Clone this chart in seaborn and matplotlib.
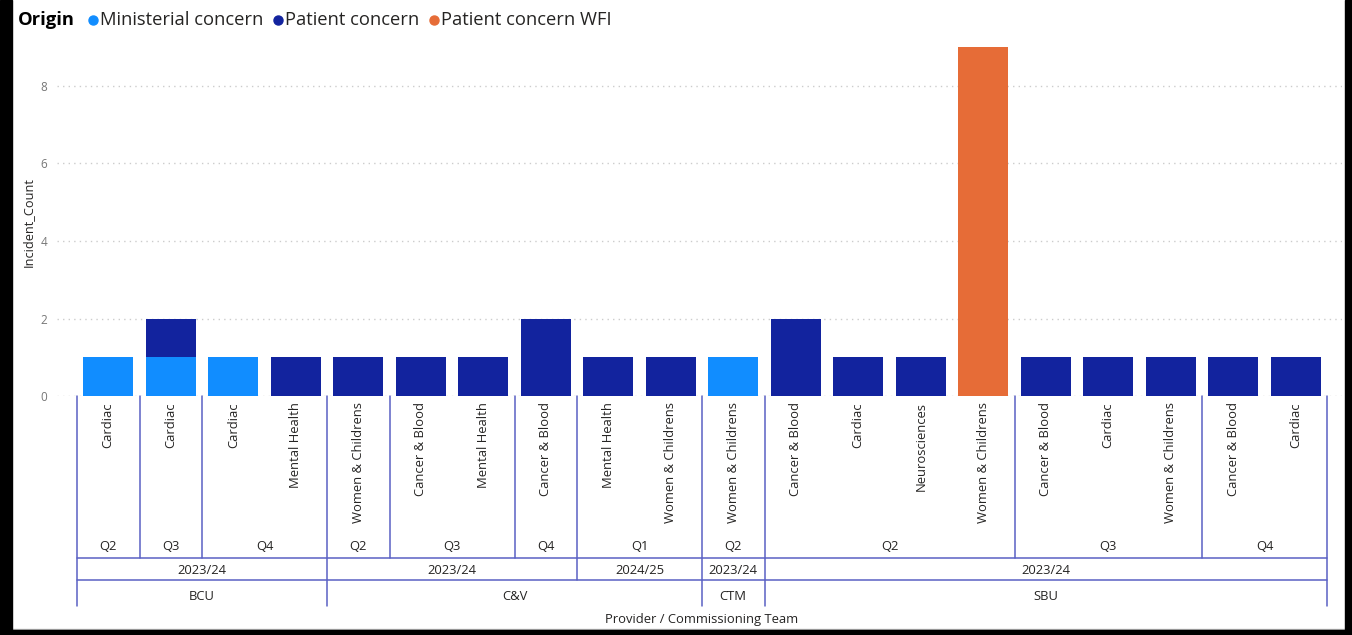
import matplotlib
matplotlib.use("Agg")
import matplotlib.pyplot as plt
import matplotlib.transforms as mtransforms
from matplotlib.lines import Line2D
from matplotlib.patches import Rectangle
import seaborn as sns
import pandas as pd

# ---- data -------------------------------------------------------------
providers = ["BCU"] * 4 + ["C&V"] * 6 + ["CTM"] + ["SBU"] * 9
years = ["2023/24"] * 8 + ["2024/25"] * 2 + ["2023/24"] + ["2023/24"] * 9
quarters = ["Q2", "Q3", "Q4", "Q4", "Q2", "Q3", "Q3", "Q4", "Q1", "Q1",
            "Q2", "Q2", "Q2", "Q2", "Q2", "Q3", "Q3", "Q3", "Q4", "Q4"]
specialties = ["Cardiac", "Cardiac", "Cardiac", "Mental Health",
               "Women & Childrens", "Cancer & Blood", "Mental Health",
               "Cancer & Blood", "Mental Health", "Women & Childrens",
               "Women & Childrens", "Cancer & Blood", "Cardiac",
               "Neurosciences", "Women & Childrens", "Cancer & Blood",
               "Cardiac", "Women & Childrens", "Cancer & Blood", "Cardiac"]
ministerial = [1, 1, 1, 0, 0, 0, 0, 0, 0, 0, 1, 0, 0, 0, 0, 0, 0, 0, 0, 0]
patient = [0, 1, 0, 1, 1, 1, 1, 2, 1, 1, 0, 2, 1, 1, 0, 1, 1, 1, 1, 1]
patient_wfi = [0, 0, 0, 0, 0, 0, 0, 0, 0, 0, 0, 0, 0, 0, 9, 0, 0, 0, 0, 0]

series = ["Ministerial concern", "Patient concern", "Patient concern WFI"]
colors = {"Ministerial concern": "#118DFF",
          "Patient concern": "#12239E",
          "Patient concern WFI": "#E66C37"}

n = len(specialties)
df = pd.DataFrame({"pos": list(range(n)),
                   "Ministerial concern": ministerial,
                   "Patient concern": patient,
                   "Patient concern WFI": patient_wfi})
stacked = df[series].cumsum(axis=1)

# ---- figure -----------------------------------------------------------
W, H = 1352, 635
sns.set_theme(style="white")
plt.rcParams["font.family"] = ["Open Sans", "DejaVu Sans"]
fig = plt.figure(figsize=(W / 100, H / 100), dpi=100)

px_per_unit = 38.75
y_top = 9.2
ax_left_px, ax_right_px = 57, 1342
zero_px = 396
ax = fig.add_axes([ax_left_px / W, 1 - zero_px / H,
                   (ax_right_px - ax_left_px) / W, y_top * px_per_unit / H])

# stacked bars: draw cumulative totals from the top layer down
for name in reversed(series):
    sns.barplot(x=df["pos"], y=stacked[name], order=list(range(n)),
                color=colors[name], saturation=1, width=0.8,
                errorbar=None, ax=ax, zorder=3, linewidth=0)

# category spacing: 62.5 px per bar, first slot starting at x=77
slot = 62.5
x0 = -0.5 - (77 - ax_left_px) / slot
x1 = (n - 0.5) + (ax_right_px - 1327) / slot
ax.set_xlim(x0, x1)
ax.set_ylim(0, y_top)
ax.set_yticks([0, 2, 4, 6, 8])
ax.set_xticks([])
ax.set_xlabel("")
ax.set_ylabel("")
ax.tick_params(axis="y", length=0, pad=7, labelsize=8.5, labelcolor="#777777")
ax.grid(axis="y", linestyle=(0, (1, 3)), color="#cccccc", linewidth=1, zorder=0)
for s in ax.spines.values():
    s.set_visible(False)

# ---- hierarchical category axis ---------------------------------------
trans = mtransforms.blended_transform_factory(ax.transData, fig.transFigure)


def fy(py):
    return 1 - py / H


line_kw = dict(color="#5a61c4", linewidth=1.1, transform=trans, clip_on=False)
text_color = "#252423"

q_bottom, y_bottom, p_bottom = 558, 580, 606

# vertical separators
bounds = [(-0.5, p_bottom)]
for i in range(1, n):
    if providers[i] != providers[i - 1]:
        bounds.append((i - 0.5, p_bottom))
    elif years[i] != years[i - 1]:
        bounds.append((i - 0.5, y_bottom))
    elif quarters[i] != quarters[i - 1]:
        bounds.append((i - 0.5, q_bottom))
bounds.append((n - 0.5, p_bottom))
for bx, bottom in bounds:
    ax.add_line(Line2D([bx, bx], [fy(zero_px), fy(bottom)], **line_kw))

# horizontal separators
for hy in (q_bottom, y_bottom):
    ax.add_line(Line2D([-0.5, n - 0.5], [fy(hy), fy(hy)], **line_kw))

# specialty labels
for i, lab in enumerate(specialties):
    ax.text(i, fy(402), lab, rotation=90, ha="center", va="top",
            fontsize=9.4, color=text_color, transform=trans)


def runs(keys):
    out = []
    start = 0
    for i in range(1, n + 1):
        if i == n or keys[i] != keys[start]:
            out.append((start, i - 1))
            start = i
    return out


q_keys = list(zip(providers, years, quarters))
y_keys = list(zip(providers, years))
for keys, labels, py in ((q_keys, quarters, 546),
                         (y_keys, years, 570),
                         (providers, providers, 596)):
    for a, b in runs(keys):
        ax.text((a + b) / 2, fy(py), labels[a], ha="center", va="center",
                fontsize=9.4, color=text_color, transform=trans)

fig.text(702 / W, fy(620), "Provider / Commissioning Team", ha="center",
         va="center", fontsize=9.4, color=text_color)
fig.text(28 / W, fy(222), "Incident_Count", rotation=90, ha="center",
         va="center", fontsize=9.2, color=text_color)

# ---- legend -----------------------------------------------------------
fig.text(18 / W, fy(20), "Origin", ha="left", va="center", fontsize=13.2,
         fontweight="bold", color="#000000")
legend_pos = [(93, 100), (278, 285), (434, 441)]
for name, (cx, tx) in zip(series, legend_pos):
    fig.add_artist(Line2D([cx / W], [fy(20)], marker="o", markersize=6.5,
                          color=colors[name], linestyle="none",
                          transform=fig.transFigure))
    fig.text(tx / W, fy(20), name, ha="left", va="center", fontsize=13.2,
             color=text_color)

# ---- frame ------------------------------------------------------------
for (rx, ry, rw, rh) in ((0, 0, 12, H), (1345, 0, 7, H), (0, 630, W, 5)):
    fig.add_artist(Rectangle((rx / W, 1 - (ry + rh) / H), rw / W, rh / H,
                             transform=fig.transFigure, color="black",
                             zorder=10))
fig.add_artist(Line2D([12 / W, 1345 / W], [fy(628.5), fy(628.5)],
                      color="#bdbdbd", linewidth=1, transform=fig.transFigure))

fig.savefig("out.png", dpi=100)
